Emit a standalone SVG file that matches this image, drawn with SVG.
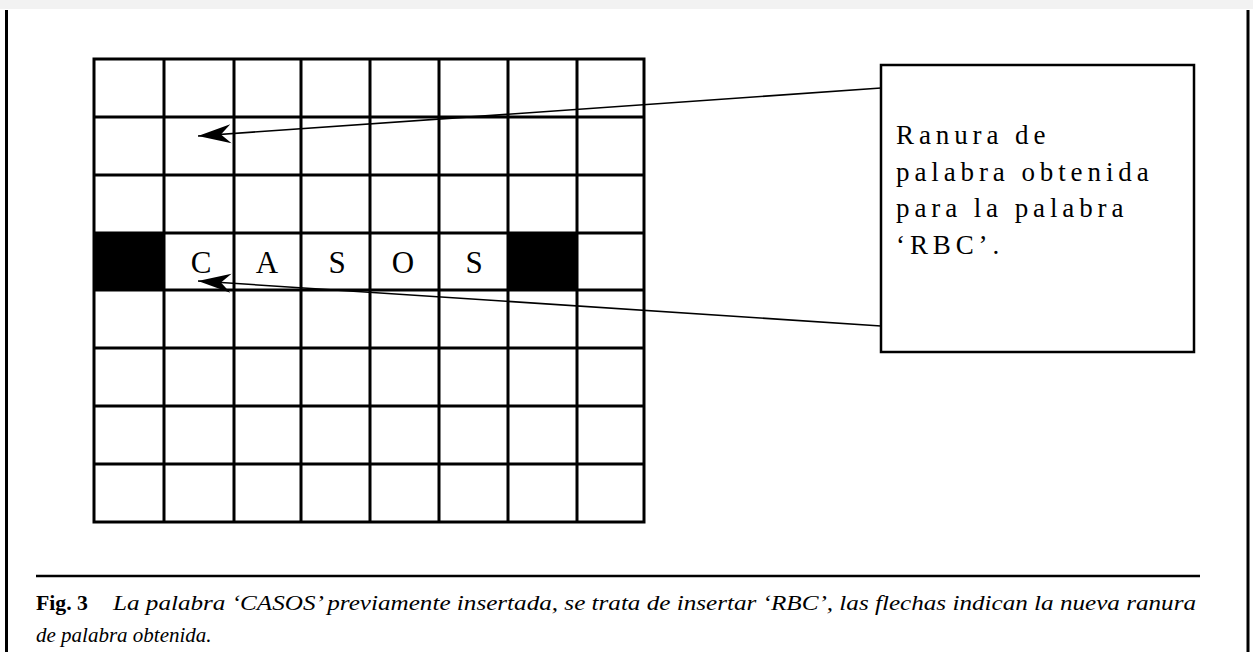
<svg xmlns="http://www.w3.org/2000/svg" width="1253" height="660" viewBox="0 0 1253 660">
  <style>
    .grid { stroke: #000; stroke-width: 3; fill: none; }
    .cell-fill { fill: #000; }
    .letter { font-family: "Liberation Serif", "Times New Roman", serif; font-size: 31px; fill: #000; text-anchor: middle; }
    .note { font-family: "Liberation Serif", "Times New Roman", serif; font-size: 27px; fill: #000; letter-spacing: 4.9px; }
    .conn { stroke: #000; stroke-width: 1.6; fill: none; }
    .cap { font-family: "Liberation Serif", "Times New Roman", serif; font-size: 21px; fill: #000; }
    .frame { stroke: #000; stroke-width: 3; }
  </style>
  <defs>
    <marker id="stealth" viewBox="-34 -11 36 22" refX="0" refY="0" markerWidth="36" markerHeight="22" markerUnits="userSpaceOnUse" orient="auto">
      <path d="M0,0 L-33,-9.5 L-23,0 L-33,9.5 Z" fill="#000"/>
    </marker>
  </defs>

  <!-- page background -->
  <rect x="0" y="0" width="1253" height="660" fill="#ffffff"/>
  <rect x="0" y="0" width="1253" height="9" fill="#f2f2f2"/>

  <!-- page frame -->
  <g id="frame">
    <line class="frame" x1="6.5" y1="10" x2="6.5" y2="652"/>
    <line class="frame" x1="1248" y1="10" x2="1248" y2="652"/>
  </g>

  <!-- 8x8 word grid -->
  <g id="grid">
    <rect class="cell-fill" x="94" y="233" width="70" height="57"/>
    <rect class="cell-fill" x="508" y="233" width="69" height="57"/>
    <rect class="grid" x="94" y="59" width="550" height="463"/>
    <path class="grid" d="M164,59V522 M234,59V522 M301,59V522 M370,59V522 M439,59V522 M508,59V522 M577,59V522
                          M94,117H644 M94,175H644 M94,233H644 M94,290H644 M94,348H644 M94,406H644 M94,464H644"/>
  </g>

  <!-- previously inserted word -->
  <g id="word-casos">
    <text class="letter" x="201" y="273">C</text>
    <text class="letter" x="267" y="273">A</text>
    <text class="letter" x="337" y="273">S</text>
    <text class="letter" x="403" y="273">O</text>
    <text class="letter" x="474" y="273">S</text>
  </g>

  <!-- note box -->
  <g id="note">
    <rect x="881" y="65" width="313" height="287" fill="#fff" stroke="#000" stroke-width="2.5"/>
    <text class="note" x="896" y="144">Ranura de</text>
    <text class="note" x="896" y="181">palabra obtenida</text>
    <text class="note" x="896" y="217">para la palabra</text>
    <text class="note" x="896" y="254">‘RBC’.</text>
  </g>

  <!-- connectors -->
  <g id="connectors">
    <line class="conn" x1="881" y1="88" x2="198" y2="136" marker-end="url(#stealth)"/>
    <line class="conn" x1="881" y1="326" x2="198" y2="281" marker-end="url(#stealth)"/>
  </g>

  <!-- caption -->
  <g id="caption">
    <line x1="36" y1="576" x2="1200" y2="576" stroke="#000" stroke-width="2.5"/>
    <text class="cap" x="36" y="610" font-weight="bold" textLength="52" lengthAdjust="spacingAndGlyphs">Fig. 3</text>
    <text class="cap" x="113" y="610" font-style="italic" textLength="1083" lengthAdjust="spacingAndGlyphs">La palabra ‘CASOS’ previamente insertada, se trata de insertar ‘RBC’, las flechas indican la nueva ranura</text>
    <text class="cap" x="36" y="642" font-style="italic">de palabra obtenida.</text>
  </g>
</svg>
